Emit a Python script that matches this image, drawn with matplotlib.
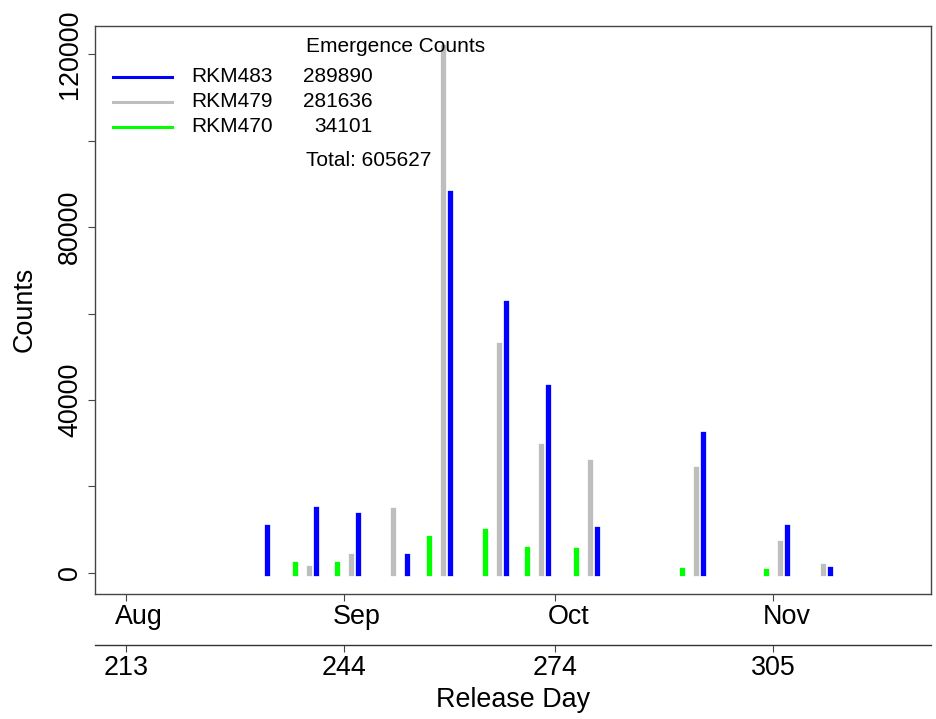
import matplotlib
matplotlib.use('Agg')
import matplotlib.pyplot as plt
import matplotlib.transforms as mtransforms
from matplotlib.lines import Line2D

plt.rcParams['font.family'] = ['Liberation Sans', 'DejaVu Sans']

# ---------------- data ----------------
site_names = ['RKM483', 'RKM479', 'RKM470']
site_colors = ['#0000FF', '#BEBEBE', '#00FF00']

rkm483_days = [233, 240, 246, 253, 259, 267, 273, 280, 295, 307, 313]
rkm483_counts = [10680, 14680, 13290, 3980, 87970, 62540, 43050, 10130, 32090, 10680, 800]

rkm479_days = [239, 245, 251, 258, 266, 272, 279, 294, 306, 312]
rkm479_counts = [1200, 3980, 14450, 121700, 52830, 29320, 25550, 24000, 6980, 1626]

rkm470_days = [237, 243, 256, 264, 270, 277, 292, 304]
rkm470_counts = [2100, 2100, 8000, 9800, 5600, 5300, 650, 551]

tick_days = [213, 244, 274, 305]
month_labels = ['Aug', 'Sep', 'Oct', 'Nov']
day_labels = ['213', '244', '274', '305']
y_ticks = [0, 20000, 40000, 60000, 80000, 100000, 120000]
y_tick_labels = ['0', '', '40000', '', '80000', '', '120000']

# ---------------- figure ----------------
W, H = 937, 719
fig = plt.figure(figsize=(W / 100, H / 100), dpi=100)
ax_l, ax_r, ax_t, ax_b = 95, 931, 25.7, 594
ax = fig.add_axes([ax_l / W, 1 - ax_b / H, (ax_r - ax_l) / W, (ax_b - ax_t) / H])

series = [(rkm483_days, rkm483_counts), (rkm479_days, rkm479_counts), (rkm470_days, rkm470_counts)]
for (d, c), col in zip(series, site_colors):
    lc = ax.vlines(d, 0, c, colors=col, linewidth=3.8)
    lc.set_capstyle('projecting')

ax.set_xlim(208.6, 327.4)
ax.set_ylim(-4868, 126568)

edge = '#444444'
for s in ax.spines.values():
    s.set_color(edge)
    s.set_linewidth(1.0)

fs = 19.4
ax.set_xticks(tick_days)
ax.set_xticklabels(month_labels, fontsize=fs)
ax.set_yticks(y_ticks)
ax.set_yticklabels(y_tick_labels, fontsize=fs, rotation=90, va='center')
ax.tick_params(axis='both', direction='out', length=5.2, width=0.8, color=edge)
ax.tick_params(axis='x', pad=2.2)
ax.tick_params(axis='y', pad=3.5)

# month labels sit slightly to the right of their ticks
shift = mtransforms.ScaledTranslation(13 / 100, 0, fig.dpi_scale_trans)
for lab in ax.get_xticklabels():
    lab.set_transform(lab.get_transform() + shift)

sec = ax.secondary_xaxis(-51.3 / (ax_b - ax_t))
sec.set_xticks(tick_days)
sec.set_xticklabels(day_labels, fontsize=fs)
sec.tick_params(axis='x', direction='out', length=5.2, width=0.8, color=edge, pad=1.8)
sec.spines['bottom'].set_color('#333333')
sec.spines['bottom'].set_linewidth(1.0)
sec.set_xlabel('Release Day', fontsize=fs, labelpad=4.5)

ax.set_ylabel('Counts', fontsize=fs, labelpad=14)

# ---------------- legend ----------------
def axx(px):
    return (px - ax_l) / (ax_r - ax_l)

def axy(py):
    return (ax_b - py) / (ax_b - ax_t)

lfs = 15
ax.text(axx(305.7), axy(51.7), 'Emergence Counts', transform=ax.transAxes,
        fontsize=lfs, ha='left', va='baseline')
for i, ((d, c), col, name) in enumerate(zip(series, site_colors, site_names)):
    yy = axy(76.7 + 25 * i)
    ax.add_line(Line2D([axx(113.3), axx(172.3)], [yy, yy], color=col, linewidth=2.2,
                       transform=ax.transAxes))
    ax.text(axx(191.7), yy, name, transform=ax.transAxes, fontsize=lfs, ha='left', va='center')
    ax.text(axx(372.3), yy, str(sum(c)), transform=ax.transAxes, fontsize=lfs,
            ha='right', va='center')
total = sum(sum(c) for d, c in series)
ax.text(axx(305.7), axy(160.7), 'Total: %d' % total, transform=ax.transAxes,
        fontsize=lfs, ha='left', va='center')

fig.savefig('out.png', dpi=100)
